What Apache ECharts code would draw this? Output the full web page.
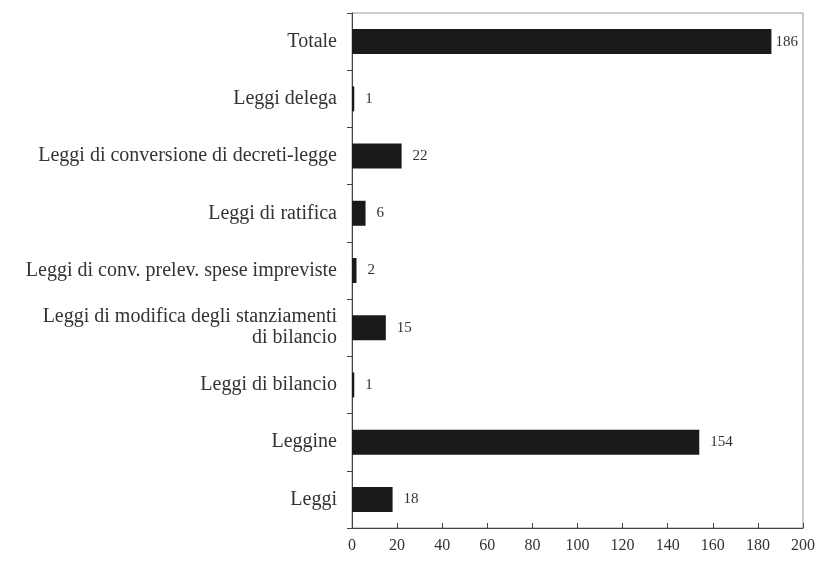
<!DOCTYPE html>
<html>
<head>
<meta charset="utf-8">
<script src="https://cdn.jsdelivr.net/npm/echarts@6/dist/echarts.min.js"></script>
<style>
  html, body { margin: 0; padding: 0; background: #fff; }
  #chart { width: 819px; height: 561px; }
</style>
</head>
<body>
<div id="chart"></div>
<script>
// categories bottom -> top
const categories = [
  'Leggi',
  'Leggine',
  'Leggi di bilancio',
  'Leggi di modifica degli stanziamenti\ndi bilancio',
  'Leggi di conv. prelev. spese impreviste',
  'Leggi di ratifica',
  'Leggi di conversione di decreti-legge',
  'Leggi delega',
  'Totale'
];
const values = [18, 154, 1, 15, 2, 6, 22, 1, 186];

const fontFam = '"Liberation Serif", "DejaVu Serif", serif';

// the total label sits tight against its bar so it stays inside the frame
const barData = values.map((v, i) =>
  categories[i] === 'Totale' ? { value: v, label: { distance: 4 } } : v
);

const myChart = echarts.init(document.getElementById('chart'));
myChart.setOption({
  animation: false,
  backgroundColor: '#fff',
  grid: {
    left: 352, right: 16, top: 13, bottom: 33,
    show: true, borderColor: '#999', borderWidth: 1
  },
  xAxis: {
    type: 'value',
    min: 0, max: 200, interval: 20,
    splitLine: { show: false },
    axisLine: { show: true, lineStyle: { color: '#444', width: 1 } },
    axisTick: { show: true, inside: true, length: 5, lineStyle: { color: '#444' } },
    axisLabel: { color: '#333', fontFamily: fontFam, fontSize: 16, margin: 10 }
  },
  yAxis: {
    type: 'category',
    data: categories,
    axisLine: { show: true, lineStyle: { color: '#444', width: 1 } },
    axisTick: { show: true, length: 5, lineStyle: { color: '#444' } },
    axisLabel: { color: '#333', fontFamily: fontFam, fontSize: 20, margin: 15, align: 'right', lineHeight: 21 }
  },
  series: [{
    type: 'bar',
    data: barData,
    barWidth: 25,
    itemStyle: { color: '#1a1a1a' },
    label: {
      show: true, position: 'right', distance: 11,
      color: '#333', fontFamily: fontFam, fontSize: 15
    }
  }]
});
</script>
</body>
</html>
